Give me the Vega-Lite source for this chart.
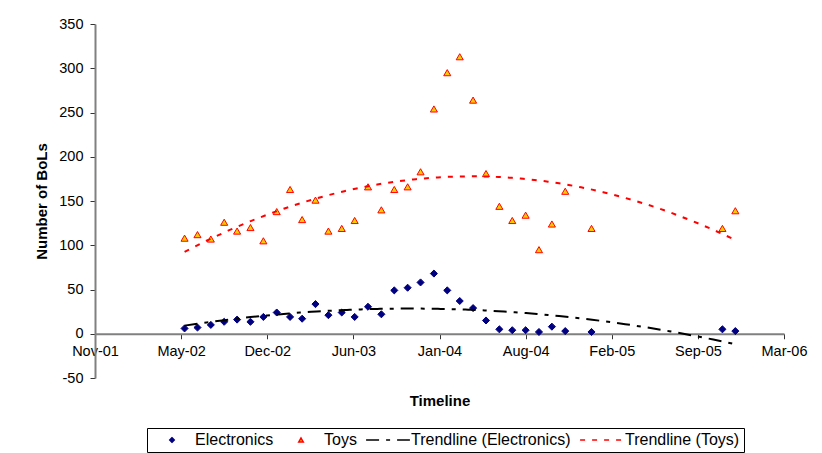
{
  "$schema": "https://vega.github.io/schema/vega-lite/v6.json",
  "width": 689,
  "height": 354,
  "autosize": {"type": "none"},
  "padding": {"left": 95, "top": 24, "right": 38, "bottom": 75},
  "background": "white",
  "config": {
    "view": {"stroke": null},
    "font": "Liberation Sans",
    "axis": {
      "labelFont": "Liberation Sans",
      "labelFontSize": 14.5,
      "labelColor": "black",
      "titleFont": "Liberation Sans",
      "titleFontSize": 15,
      "titleFontWeight": "bold",
      "titleColor": "black",
      "grid": false,
      "domainColor": "#808080",
      "domainWidth": 2,
      "tickColor": "#333333",
      "tickWidth": 1,
      "tickSize": 5
    },
    "legend": {
      "orient": "none",
      "legendX": 52,
      "legendY": 404,
      "direction": "horizontal",
      "columns": 4,
      "strokeColor": "black",
      "strokeWidth": 1,
      "fillColor": "white",
      "padding": 4,
      "labelFont": "Liberation Sans",
      "labelFontSize": 16,
      "labelColor": "black",
      "labelLimit": 300,
      "symbolSize": 20,
      "symbolStrokeWidth": 1.5,
      "symbolOffset": 13,
      "labelOffset": 15,
      "columnPadding": 6,
      "rowPadding": 0
    }
  },
  "data": {
    "format": {"parse": {"date": "date"}},
    "values": [
      {"date": "2002-06-01", "series": "Electronics", "trend": "Trendline (Electronics)", "count": 6},
      {"date": "2002-07-01", "series": "Electronics", "trend": "Trendline (Electronics)", "count": 7},
      {"date": "2002-08-01", "series": "Electronics", "trend": "Trendline (Electronics)", "count": 10},
      {"date": "2002-09-01", "series": "Electronics", "trend": "Trendline (Electronics)", "count": 13.5},
      {"date": "2002-10-01", "series": "Electronics", "trend": "Trendline (Electronics)", "count": 16},
      {"date": "2002-11-01", "series": "Electronics", "trend": "Trendline (Electronics)", "count": 13.5},
      {"date": "2002-12-01", "series": "Electronics", "trend": "Trendline (Electronics)", "count": 19},
      {"date": "2003-01-01", "series": "Electronics", "trend": "Trendline (Electronics)", "count": 24},
      {"date": "2003-02-01", "series": "Electronics", "trend": "Trendline (Electronics)", "count": 19},
      {"date": "2003-03-01", "series": "Electronics", "trend": "Trendline (Electronics)", "count": 17},
      {"date": "2003-04-01", "series": "Electronics", "trend": "Trendline (Electronics)", "count": 33.5},
      {"date": "2003-05-01", "series": "Electronics", "trend": "Trendline (Electronics)", "count": 21},
      {"date": "2003-06-01", "series": "Electronics", "trend": "Trendline (Electronics)", "count": 24},
      {"date": "2003-07-01", "series": "Electronics", "trend": "Trendline (Electronics)", "count": 19},
      {"date": "2003-08-01", "series": "Electronics", "trend": "Trendline (Electronics)", "count": 30.5},
      {"date": "2003-09-01", "series": "Electronics", "trend": "Trendline (Electronics)", "count": 22},
      {"date": "2003-10-01", "series": "Electronics", "trend": "Trendline (Electronics)", "count": 49},
      {"date": "2003-11-01", "series": "Electronics", "trend": "Trendline (Electronics)", "count": 52},
      {"date": "2003-12-01", "series": "Electronics", "trend": "Trendline (Electronics)", "count": 58},
      {"date": "2004-01-01", "series": "Electronics", "trend": "Trendline (Electronics)", "count": 68},
      {"date": "2004-02-01", "series": "Electronics", "trend": "Trendline (Electronics)", "count": 49},
      {"date": "2004-03-01", "series": "Electronics", "trend": "Trendline (Electronics)", "count": 37},
      {"date": "2004-04-01", "series": "Electronics", "trend": "Trendline (Electronics)", "count": 29},
      {"date": "2004-05-01", "series": "Electronics", "trend": "Trendline (Electronics)", "count": 15},
      {"date": "2004-06-01", "series": "Electronics", "trend": "Trendline (Electronics)", "count": 5},
      {"date": "2004-07-01", "series": "Electronics", "trend": "Trendline (Electronics)", "count": 4},
      {"date": "2004-08-01", "series": "Electronics", "trend": "Trendline (Electronics)", "count": 4},
      {"date": "2004-09-01", "series": "Electronics", "trend": "Trendline (Electronics)", "count": 2},
      {"date": "2004-10-01", "series": "Electronics", "trend": "Trendline (Electronics)", "count": 8},
      {"date": "2004-11-01", "series": "Electronics", "trend": "Trendline (Electronics)", "count": 3},
      {"date": "2005-01-01", "series": "Electronics", "trend": "Trendline (Electronics)", "count": 2},
      {"date": "2005-11-01", "series": "Electronics", "trend": "Trendline (Electronics)", "count": 5},
      {"date": "2005-12-01", "series": "Electronics", "trend": "Trendline (Electronics)", "count": 3},
      {"date": "2002-06-01", "series": "Toys", "trend": "Trendline (Toys)", "count": 108},
      {"date": "2002-07-01", "series": "Toys", "trend": "Trendline (Toys)", "count": 112},
      {"date": "2002-08-01", "series": "Toys", "trend": "Trendline (Toys)", "count": 107},
      {"date": "2002-09-01", "series": "Toys", "trend": "Trendline (Toys)", "count": 126},
      {"date": "2002-10-01", "series": "Toys", "trend": "Trendline (Toys)", "count": 116},
      {"date": "2002-11-01", "series": "Toys", "trend": "Trendline (Toys)", "count": 120},
      {"date": "2002-12-01", "series": "Toys", "trend": "Trendline (Toys)", "count": 105},
      {"date": "2003-01-01", "series": "Toys", "trend": "Trendline (Toys)", "count": 138},
      {"date": "2003-02-01", "series": "Toys", "trend": "Trendline (Toys)", "count": 163},
      {"date": "2003-03-01", "series": "Toys", "trend": "Trendline (Toys)", "count": 129},
      {"date": "2003-04-01", "series": "Toys", "trend": "Trendline (Toys)", "count": 151},
      {"date": "2003-05-01", "series": "Toys", "trend": "Trendline (Toys)", "count": 116},
      {"date": "2003-06-01", "series": "Toys", "trend": "Trendline (Toys)", "count": 119},
      {"date": "2003-07-01", "series": "Toys", "trend": "Trendline (Toys)", "count": 128},
      {"date": "2003-08-01", "series": "Toys", "trend": "Trendline (Toys)", "count": 166},
      {"date": "2003-09-01", "series": "Toys", "trend": "Trendline (Toys)", "count": 140},
      {"date": "2003-10-01", "series": "Toys", "trend": "Trendline (Toys)", "count": 163},
      {"date": "2003-11-01", "series": "Toys", "trend": "Trendline (Toys)", "count": 166},
      {"date": "2003-12-01", "series": "Toys", "trend": "Trendline (Toys)", "count": 183},
      {"date": "2004-01-01", "series": "Toys", "trend": "Trendline (Toys)", "count": 254},
      {"date": "2004-02-01", "series": "Toys", "trend": "Trendline (Toys)", "count": 295},
      {"date": "2004-03-01", "series": "Toys", "trend": "Trendline (Toys)", "count": 313},
      {"date": "2004-04-01", "series": "Toys", "trend": "Trendline (Toys)", "count": 264},
      {"date": "2004-05-01", "series": "Toys", "trend": "Trendline (Toys)", "count": 181},
      {"date": "2004-06-01", "series": "Toys", "trend": "Trendline (Toys)", "count": 144},
      {"date": "2004-07-01", "series": "Toys", "trend": "Trendline (Toys)", "count": 128},
      {"date": "2004-08-01", "series": "Toys", "trend": "Trendline (Toys)", "count": 134},
      {"date": "2004-09-01", "series": "Toys", "trend": "Trendline (Toys)", "count": 95},
      {"date": "2004-10-01", "series": "Toys", "trend": "Trendline (Toys)", "count": 124},
      {"date": "2004-11-01", "series": "Toys", "trend": "Trendline (Toys)", "count": 161},
      {"date": "2005-01-01", "series": "Toys", "trend": "Trendline (Toys)", "count": 119},
      {"date": "2005-11-01", "series": "Toys", "trend": "Trendline (Toys)", "count": 119},
      {"date": "2005-12-01", "series": "Toys", "trend": "Trendline (Toys)", "count": 139}
    ]
  },
  "encoding": {
    "x": {
      "field": "date",
      "type": "temporal",
      "scale": {
        "type": "utc",
        "domain": [
          {"year": 2001, "month": 11, "date": 5, "utc": true},
          {"year": 2006, "month": 3, "date": 24, "utc": true}
        ]
      },
      "axis": {
        "title": "Timeline",
        "format": "%b-%y",
        "offset": -44.25,
        "labelFlush": false,
        "labelOverlap": false,
        "labelPadding": 6,
        "titlePadding": 35,
        "values": [
          {"year": 2001, "month": 11, "date": 5, "utc": true},
          {"year": 2002, "month": 5, "date": 24, "utc": true},
          {"year": 2002, "month": 12, "date": 10, "utc": true},
          {"year": 2003, "month": 6, "date": 28, "utc": true},
          {"year": 2004, "month": 1, "date": 14, "utc": true},
          {"year": 2004, "month": 8, "date": 1, "utc": true},
          {"year": 2005, "month": 2, "date": 17, "utc": true},
          {"year": 2005, "month": 9, "date": 5, "utc": true},
          {"year": 2006, "month": 3, "date": 24, "utc": true}
        ]
      }
    },
    "y": {
      "field": "count",
      "type": "quantitative",
      "scale": {"domain": [-50, 350], "nice": false, "zero": false},
      "axis": {
        "title": "Number of BoLs",
        "values": [-50, 0, 50, 100, 150, 200, 250, 300, 350],
        "labelExpr": "'' + datum.value",
        "labelPadding": 7,
        "titlePadding": 9
      }
    }
  },
  "layer": [
    {
      "mark": {"type": "point", "filled": true, "size": 50, "opacity": 1, "strokeWidth": 1},
      "encoding": {
        "shape": {
          "field": "series",
          "type": "nominal",
          "scale": {
            "domain": ["Electronics", "Toys", "Trendline (Electronics)", "Trendline (Toys)"],
            "range": ["diamond", "triangle-up", "M-9.8,0H9.8", "M-9.8,0H9.8"]
          },
          "legend": {"title": null}
        },
        "fill": {
          "field": "series",
          "type": "nominal",
          "scale": {
            "domain": ["Electronics", "Toys", "Trendline (Electronics)", "Trendline (Toys)"],
            "range": ["#000080", "#FFCC00", "transparent", "transparent"]
          },
          "legend": {"title": null}
        },
        "stroke": {
          "field": "series",
          "type": "nominal",
          "scale": {
            "domain": ["Electronics", "Toys", "Trendline (Electronics)", "Trendline (Toys)"],
            "range": ["#000080", "#FF0000", "#000000", "#FF0000"]
          },
          "legend": {"title": null}
        }
      }
    },
    {
      "transform": [
        {"regression": "count", "on": "date", "groupby": ["trend"], "method": "poly", "order": 2}
      ],
      "mark": {"type": "line", "strokeWidth": 2},
      "encoding": {
        "stroke": {"field": "trend", "type": "nominal", "legend": {"title": null}},
        "strokeDash": {
          "field": "trend",
          "type": "nominal",
          "scale": {
            "domain": ["Electronics", "Toys", "Trendline (Electronics)", "Trendline (Toys)"],
            "range": [[1, 0], [1, 0], [13, 7, 4, 7], [5, 7]]
          },
          "legend": {"title": null}
        }
      }
    }
  ]
}
